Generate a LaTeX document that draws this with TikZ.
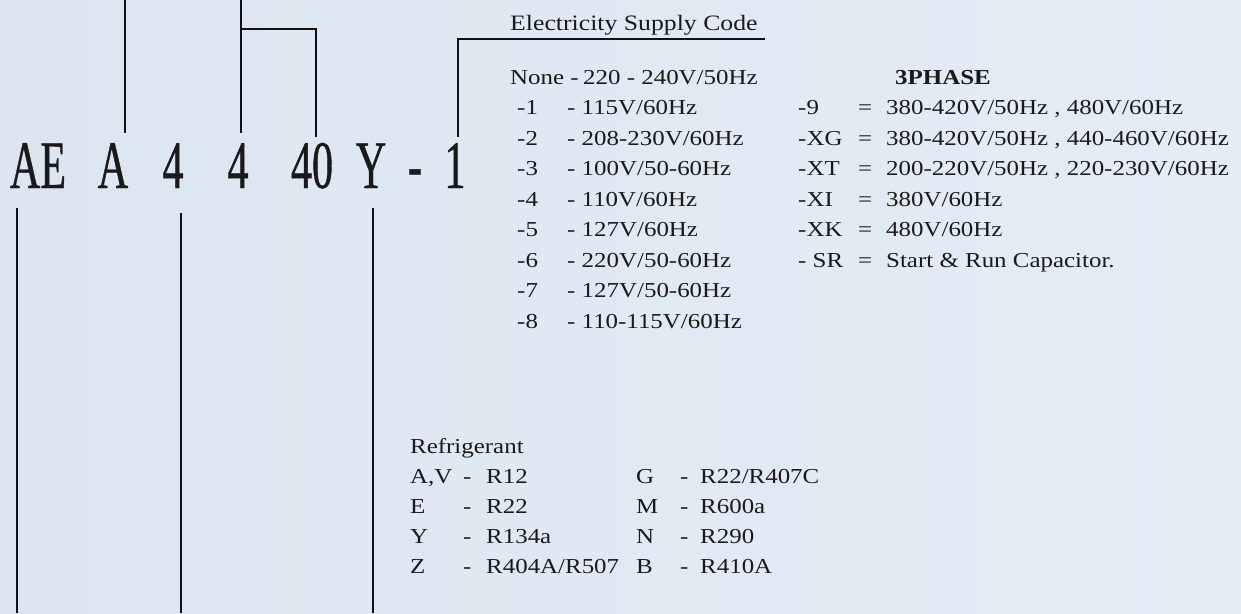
\documentclass[tikz,border=0pt]{standalone}
\usepackage{fontspec}
\setmainfont[FakeStretch=1.17]{Liberation Serif}
\newfontfamily\codefont[FakeStretch=0.62,FakeBold=0.6]{Liberation Serif}
\definecolor{bgleft}{HTML}{DCE6F0}
\definecolor{bgright}{HTML}{E4EDF6}
\definecolor{ink}{HTML}{1A1A1A}
\definecolor{leadcol}{HTML}{111111}
\tikzset{
  txt/.style={anchor=base west, inner sep=0pt, text=ink, font=\fontsize{21.3}{24}\selectfont},
  head/.style={anchor=base west, inner sep=0pt, text=ink, font=\fontsize{22}{26}\selectfont},
  bighead/.style={anchor=base west, inner sep=0pt, text=ink, font=\fontsize{21.3}{24}\selectfont\bfseries},
  code/.style={anchor=base, inner sep=0pt, text=ink, font=\fontsize{68}{70}\selectfont\codefont},
  lead/.style={draw=leadcol, line width=1.9pt}
}
\begin{document}
\begin{tikzpicture}[x=1pt,y=-1pt]
\useasboundingbox (0,0) rectangle (1241,613);
\shade[left color=bgleft, right color=bgright] (0,0) rectangle (1241,613);

% model code characters
\node[code] (cAE) at (38,188) {AE};
\node[code] (cA) at (113,188) {A};
\node[code] (c4a) at (173,188) {4};
\node[code] (c4b) at (238,188) {4};
\node[code] (c40) at (312,188) {40};
\node[code] (cY) at (371,188) {Y};
\node[code] (cdash) at (415,188) {-};
\node[code] (c1) at (455,188) {1};

% lead coordinates
\coordinate (tA) at (125,0);   \coordinate (eA) at (125,133);
\coordinate (t4) at (241,0);   \coordinate (e4) at (241,133);
\coordinate (k4) at (241,29);  \coordinate (k40) at (316,29);
\coordinate (e40) at (316,137);
\coordinate (e1) at (458,137); \coordinate (k1) at (458,39);
\coordinate (u1) at (765,39);
\coordinate (sAE) at (17,208);  \coordinate (bAE) at (17,613);
\coordinate (s4) at (181,213);  \coordinate (b4) at (181,613);
\coordinate (sY) at (373,208);  \coordinate (bY) at (373,613);

\draw[lead] (tA) -- (eA);
\draw[lead] (t4) -- (e4);
\draw[lead] (k4) -- (k40) -- (e40);
\draw[lead] (e1) -- (k1) -- (u1);
\draw[lead] (sAE) -- (bAE);
\draw[lead] (s4) -- (b4);
\draw[lead] (sY) -- (bY);

% Electricity supply code
\node[head] (esc) at (510,30) {Electricity Supply Code};
\node[txt] (none) at (510,84) {None -};
\node[txt] (nonev) at (583,84) {220 - 240V/50Hz};
\node[txt] (r1) at (517,114.5) {-1};  \node[txt] (v1) at (567,114.5) {- 115V/60Hz};
\node[txt] (r2) at (517,145)   {-2};  \node[txt] (v2) at (567,145)   {- 208-230V/60Hz};
\node[txt] (r3) at (517,175.5) {-3};  \node[txt] (v3) at (567,175.5) {- 100V/50-60Hz};
\node[txt] (r4) at (517,206)   {-4};  \node[txt] (v4) at (567,206)   {- 110V/60Hz};
\node[txt] (r5) at (517,236.5) {-5};  \node[txt] (v5) at (567,236.5) {- 127V/60Hz};
\node[txt] (r6) at (517,267)   {-6};  \node[txt] (v6) at (567,267)   {- 220V/50-60Hz};
\node[txt] (r7) at (517,297.5) {-7};  \node[txt] (v7) at (567,297.5) {- 127V/50-60Hz};
\node[txt] (r8) at (517,328)   {-8};  \node[txt] (v8) at (567,328)   {- 110-115V/60Hz};

% 3 phase
\node[bighead] (ph) at (895,84) {3PHASE};
\node[txt] (p9) at (798,114.5) {-9};   \node[txt] (q9) at (858,114.5) {=};  \node[txt] (w9) at (886,114.5) {380-420V/50Hz , 480V/60Hz};
\node[txt] (pg) at (798,145) {-XG};    \node[txt] (qg) at (858,145) {=};    \node[txt] (wg) at (886,145) {380-420V/50Hz , 440-460V/60Hz};
\node[txt] (pt) at (798,175.5) {-XT};  \node[txt] (qt) at (858,175.5) {=};  \node[txt] (wt) at (886,175.5) {200-220V/50Hz ,\ 220-230V/60Hz};
\node[txt] (pi) at (798,206) {-XI};    \node[txt] (qi) at (858,206) {=};    \node[txt] (wi) at (886,206) {380V/60Hz};
\node[txt] (pk) at (798,236.5) {-XK};  \node[txt] (qk) at (858,236.5) {=};  \node[txt] (wk) at (886,236.5) {480V/60Hz};
\node[txt] (ps) at (798,267) {- SR};   \node[txt] (qs) at (858,267) {=};    \node[txt] (ws) at (886,267) {Start \& Run Capacitor.};

% Refrigerant
\node[txt] (ref) at (410,453) {Refrigerant};
\node[txt] (ra) at (410,483) {A,V}; \node[txt] (da) at (463,483) {-}; \node[txt] (va) at (486,483) {R12};
\node[txt] (re) at (410,513) {E};   \node[txt] (de) at (463,513) {-}; \node[txt] (ve) at (486,513) {R22};
\node[txt] (ry) at (410,543) {Y};   \node[txt] (dy) at (463,543) {-}; \node[txt] (vy) at (486,543) {R134a};
\node[txt] (rz) at (410,573) {Z};   \node[txt] (dz) at (463,573) {-}; \node[txt] (vz) at (486,573) {R404A/R507};
\node[txt] (rg) at (636,483) {G};   \node[txt] (dg) at (680,483) {-}; \node[txt] (vg) at (700,483) {R22/R407C};
\node[txt] (rm) at (636,513) {M};   \node[txt] (dm) at (680,513) {-}; \node[txt] (vm) at (700,513) {R600a};
\node[txt] (rn) at (636,543) {N};   \node[txt] (dn) at (680,543) {-}; \node[txt] (vn) at (700,543) {R290};
\node[txt] (rb) at (636,573) {B};   \node[txt] (db) at (680,573) {-}; \node[txt] (vb) at (700,573) {R410A};
\end{tikzpicture}
\end{document}
